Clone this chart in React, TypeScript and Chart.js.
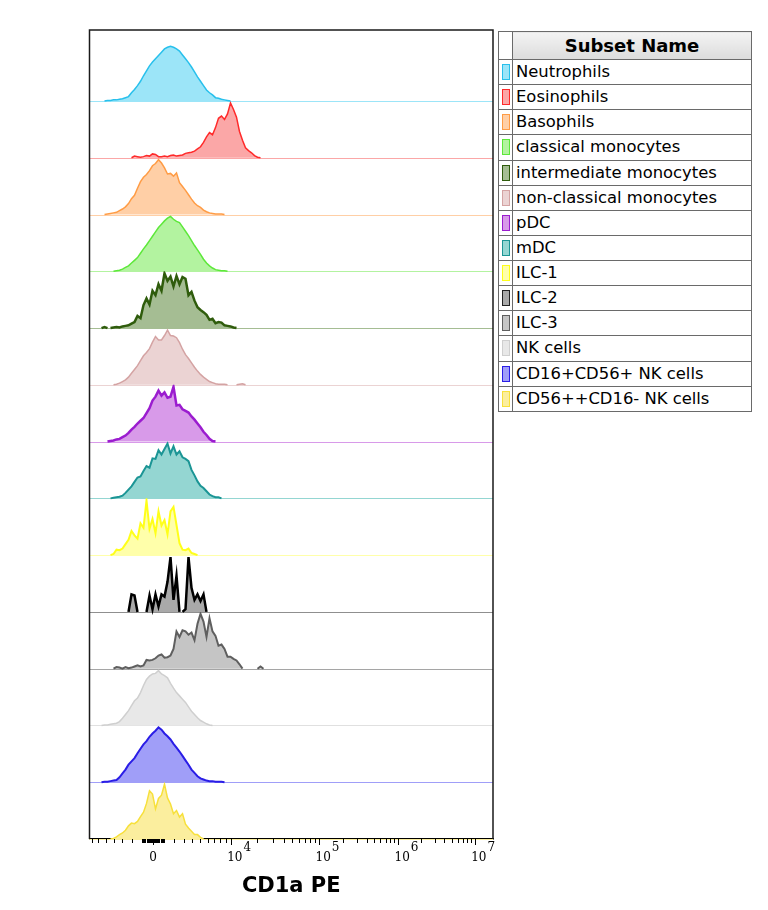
import React, { useEffect, useRef } from "react";
import { Chart, registerables } from "chart.js";

Chart.register(...registerables);

// ---------- data ----------
// Histogram bins (display channels along the CD1a PE axis)
const BIN_CHANNELS = [
  0, 3, 6, 9, 12, 15, 18, 21, 24, 27, 30, 33, 36, 39, 42, 45, 48, 51, 54, 57,
  60, 63, 66, 69, 72, 75, 78, 81, 84, 87, 90, 93, 96, 99, 102, 105, 108, 111, 114, 117,
  120, 123, 126, 129, 132, 135, 138, 141, 144, 147, 150, 153, 156, 159, 162, 165, 168, 171, 174, 177,
  180,
];

const SUBSETS = [
  "Neutrophils",
  "Eosinophils",
  "Basophils",
  "classical monocytes",
  "intermediate monocytes",
  "non-classical monocytes",
  "pDC",
  "mDC",
  "ILC-1",
  "ILC-2",
  "ILC-3",
  "NK cells",
  "CD16+CD56+ NK cells",
  "CD56++CD16- NK cells",
];

// % of mode, per bin
const neutrophils = [
  0, 0, 0, 0, 0, 0, 1, 1, 2, 2,
  3, 4, 6, 8, 15, 21, 28, 36, 46, 55,
  64, 71, 77, 83, 89, 95, 98, 100, 98, 95,
  91, 84, 77, 70, 62, 53, 44, 36, 28, 20,
  15, 11, 6, 5, 3, 2, 1, 0, 0, 0,
  0, 0, 0, 0, 0, 0, 0, 0, 0, 0,
  0,
];
const eosinophils = [
  0, 0, 0, 0, 0, 0, 0, 0, 0, 0,
  0, 0, 0, 0, 0, 3, 2, 1, 2, 4,
  3, 7, 6, 2, 2, 3, 2, 4, 5, 3,
  4, 5, 8, 9, 10, 12, 16, 20, 28, 38,
  46, 42, 55, 72, 76, 70, 80, 100, 88, 74,
  48, 32, 18, 13, 9, 4, 1, 0, 0, 0,
  0,
];
const basophils = [
  0, 0, 0, 0, 0, 0, 1, 2, 3, 4,
  7, 10, 14, 20, 29, 35, 48, 60, 68, 73,
  80, 89, 93, 100, 94, 85, 74, 75, 70, 76,
  58, 51, 44, 36, 28, 21, 16, 13, 8, 5,
  3, 2, 1, 1, 1, 0, 0, 0, 0, 0,
  0, 0, 0, 0, 0, 0, 0, 0, 0, 0,
  0,
];
const classicalMonocytes = [
  0, 0, 0, 0, 0, 0, 0, 0, 0, 1,
  2, 4, 7, 10, 15, 20, 25, 33, 41, 48,
  56, 64, 72, 80, 86, 92, 97, 100, 95, 91,
  89, 81, 73, 65, 56, 47, 39, 31, 22, 15,
  10, 6, 3, 2, 1, 1, 0, 0, 0, 0,
  0, 0, 0, 0, 0, 0, 0, 0, 0, 0,
  0,
];
const intermediateMonocytes = [
  0, 0, 0, 0, 0, 2, 0, 0, 1, 2,
  1, 3, 4, 5, 8, 11, 22, 18, 42, 54,
  43, 68, 60, 80, 68, 100, 86, 94, 76, 95,
  80, 93, 90, 60, 66, 50, 38, 33, 29, 24,
  15, 17, 9, 11, 10, 5, 4, 3, 1, 0,
  0, 0, 0, 0, 0, 0, 0, 0, 0, 0,
  0,
];
const nonClassicalMonocytes = [
  0, 0, 0, 0, 0, 0, 0, 0, 0, 1,
  3, 6, 9, 14, 21, 28, 35, 44, 53, 59,
  66, 78, 88, 82, 82, 90, 100, 90, 89, 86,
  77, 65, 55, 48, 40, 32, 25, 19, 14, 10,
  6, 4, 2, 1, 1, 1, 0, 0, 0, 0,
  1, 2, 0, 0, 0, 0, 0, 0, 0, 0,
  0,
];
const pDC = [
  0, 0, 0, 0, 0, 0, 0, 1, 2, 4,
  5, 8, 11, 16, 22, 27, 33, 38, 43, 52,
  61, 75, 82, 93, 84, 90, 80, 82, 100, 66,
  67, 59, 56, 53, 46, 40, 33, 26, 18, 12,
  5, 1, 0, 0, 0, 0, 0, 0, 0, 0,
  0, 0, 0, 0, 0, 0, 0, 0, 0, 0,
  0,
];
const mDC = [
  0, 0, 0, 0, 0, 0, 0, 0, 1, 2,
  3, 5, 10, 16, 22, 30, 38, 40, 50, 59,
  56, 73, 72, 88, 80, 90, 100, 82, 95, 80,
  86, 75, 72, 68, 52, 42, 31, 23, 19, 13,
  7, 4, 2, 2, 0, 0, 0, 0, 0, 0,
  0, 0, 0, 0, 0, 0, 0, 0, 0, 0,
  0,
];
const ilc1 = [
  0, 0, 0, 0, 0, 0, 0, 0, 2, 10,
  9, 12, 20, 28, 44, 36, 30, 58, 50, 100,
  48, 66, 40, 80, 54, 64, 38, 80, 88, 55,
  22, 10, 9, 12, 4, 2, 0, 0, 0, 0,
  0, 0, 0, 0, 0, 0, 0, 0, 0, 0,
  0, 0, 0, 0, 0, 0, 0, 0, 0, 0,
  0,
];
const ilc2 = [
  0, 0, 0, 0, 0, 0, 0, 0, 0, 0,
  0, 0, 0, 0, 32, 30, 0, 0, 0, 0,
  30, 5, 32, 10, 32, 28, 55, 100, 22, 66,
  0, 0, 5, 100, 44, 22, 32, 20, 32, 0,
  0, 0, 0, 0, 0, 0, 0, 0, 0, 0,
  0, 0, 0, 0, 0, 0, 0, 0, 0, 0,
  0,
];
const ilc3 = [
  0, 0, 0, 0, 0, 0, 0, 0, 0, 3,
  2, 0, 3, 1, 2, 4, 6, 4, 6, 16,
  15, 16, 19, 24, 26, 20, 21, 24, 36, 68,
  58, 70, 68, 62, 66, 52, 82, 100, 86, 58,
  92, 68, 60, 42, 44, 36, 22, 22, 18, 15,
  8, 0, 0, 0, 0, 0, 0, 4, 0, 0,
  0,
];
const nkCells = [
  0, 0, 0, 0, 0, 1, 1, 2, 3, 4,
  7, 13, 20, 27, 36, 45, 50, 60, 73, 84,
  90, 94, 95, 100, 94, 91, 87, 77, 68, 60,
  54, 48, 42, 34, 26, 20, 14, 9, 6, 3,
  1, 0, 0, 0, 0, 0, 0, 0, 0, 0,
  0, 0, 0, 0, 0, 0, 0, 0, 0, 0,
  0,
];
const cd16cd56NK = [
  0, 0, 0, 0, 0, 1, 1, 2, 3, 4,
  9, 16, 23, 32, 38, 44, 53, 61, 69, 75,
  83, 89, 94, 100, 96, 89, 84, 78, 70, 63,
  56, 48, 40, 32, 23, 17, 11, 7, 5, 3,
  2, 2, 1, 1, 1, 0, 0, 0, 0, 0,
  0, 0, 0, 0, 0, 0, 0, 0, 0, 0,
  0,
];
const cd56brightNK = [
  0, 0, 0, 0, 0, 0, 0, 0, 1, 4,
  8, 11, 16, 24, 29, 28, 32, 41, 49, 65,
  88, 82, 55, 74, 80, 100, 75, 64, 46, 52,
  40, 46, 27, 20, 14, 8, 8, 3, 0, 0,
  0, 0, 0, 0, 0, 0, 0, 0, 0, 0,
  0, 0, 0, 0, 0, 0, 0, 0, 0, 0,
  0,
];

const SERIES = [
  neutrophils, eosinophils, basophils, classicalMonocytes, intermediateMonocytes,
  nonClassicalMonocytes, pDC, mDC, ilc1, ilc2, ilc3, nkCells, cd16cd56NK, cd56brightNK,
];

// axis ticks (data values) and their labels
const MAJOR_TICK_VALUES = [0, 1e4, 1e5, 1e6, 1e7];
const MAJOR_TICK_BASES = ["0", "10", "10", "10", "10"];
const MAJOR_TICK_EXPONENTS = ["", "4", "5", "6", "7"];
const X_TITLE = "CD1a PE";
const LEGEND_TITLE = "Subset Name";

// ---------- styles ----------
const LINE_COLORS = [
  "#28c0ec", "#ff2a2a", "#ff9c45", "#5de83a", "#2f5c0c", "#d4a3a3", "#9b1ccf",
  "#1b9595", "#ffff1a", "#000000", "#5f5f5f", "#cfcfcf", "#2a1de6", "#f7e03c",
];
const FILL_COLORS = [
  "#9ce5f8", "#fba7a7", "#ffcfa6", "#b3f3a0", "#a5bd93", "#ebd3d3", "#d89ae9",
  "#94d6d2", "#ffffaa", "#a9a9a9", "#c5c5c5", "#e8e8e8", "#a09ef8", "#fbee9e",
];
const BASE_COLORS = [
  "#9ce5f8", "#fba7a7", "#ffcfa6", "#b3f3a0", "#a5bd93", "#ebd3d3", "#d89ae9",
  "#94d6d2", "#ffffaa", "#8f8f8f", "#a5a5a5", "#e0e0e0", "#a09ef8", "#fbee9e",
];
const LINE_WIDTHS = [1.5, 1.5, 1.5, 1.5, 2.5, 1.5, 2.5, 2, 2, 2.5, 2, 1.5, 2, 1.5];

const LANE_PEAK = 0.965; // fraction of lane used by the mode
const Y_MAX = 14.25;
const X_MAX = 403.5;

// biexponential-like display transform (data value -> display channel)
function biex(v: number): number {
  const zero = 63.5;
  const dec = [141.2, 229.5, 308.5, 385.2]; // 1e4, 1e5, 1e6, 1e7
  if (Math.abs(v) <= 1e4) {
    return zero + (dec[0] - zero) * (Math.asinh(v / 5000) / Math.asinh(2));
  }
  const lg = Math.log10(v);
  const k = Math.min(6, Math.max(4, Math.floor(lg)));
  return dec[k - 4] + (lg - k) * (dec[k - 3] - dec[k - 4]);
}

function minorTickValues(): number[] {
  const out: number[] = [];
  for (let m = 1; m <= 7; m++) out.push(-m * 1000);
  for (let m = 1; m <= 9; m++) { out.push(-m * 100); out.push(m * 100); }
  for (let m = 1; m <= 9; m++) out.push(m * 1000);
  for (let e = 4; e <= 6; e++) for (let m = 2; m <= 9; m++) out.push(m * Math.pow(10, e));
  return out;
}

const laneOffset = (k: number) => SUBSETS.length - 1 - k;

const overlayPlugin = {
  id: "flowOverlay",
  beforeDatasetsDraw(chart: any) {
    const { ctx, chartArea, scales } = chart;
    ctx.save();
    ctx.lineWidth = 1;
    SUBSETS.forEach((_, k) => {
      const yy = Math.round(scales.y.getPixelForValue(laneOffset(k))) + 0.5;
      ctx.strokeStyle = BASE_COLORS[k];
      ctx.beginPath();
      ctx.moveTo(chartArea.left, yy);
      ctx.lineTo(chartArea.right, yy);
      ctx.stroke();
    });
    ctx.restore();
  },
  afterDraw(chart: any) {
    const { ctx, chartArea, scales } = chart;
    const { left, right, top, bottom } = chartArea;
    ctx.save();
    // frame
    ctx.strokeStyle = "#1a1a1a";
    ctx.lineWidth = 1.5;
    ctx.beginPath();
    ctx.moveTo(left, bottom);
    ctx.lineTo(left, top);
    ctx.lineTo(right, top);
    ctx.lineTo(right, bottom);
    ctx.stroke();
    // ticks
    ctx.strokeStyle = "#000";
    ctx.lineWidth = 1;
    const x = scales.x;
    minorTickValues().forEach((v) => {
      const px = Math.round(x.getPixelForValue(biex(v))) + 0.5;
      ctx.beginPath();
      ctx.moveTo(px, bottom);
      ctx.lineTo(px, bottom + 4);
      ctx.stroke();
    });
    MAJOR_TICK_VALUES.forEach((v) => {
      const px = Math.round(x.getPixelForValue(biex(v))) + 0.5;
      ctx.beginPath();
      ctx.moveTo(px, bottom);
      ctx.lineTo(px, bottom + 6);
      ctx.stroke();
    });
    // labels
    ctx.fillStyle = "#000";
    ctx.font = '12px "DejaVu Serif", serif';
    ctx.textBaseline = "middle";
    MAJOR_TICK_VALUES.forEach((v, i) => {
      const px = x.getPixelForValue(biex(v));
      const base = MAJOR_TICK_BASES[i];
      const exp = MAJOR_TICK_EXPONENTS[i];
      if (!exp) {
        ctx.textAlign = "center";
        ctx.fillText(base, px, bottom + 19);
      } else {
        ctx.textAlign = "left";
        const bx = px - 3.5;
        ctx.fillText(base, bx, bottom + 19);
        const w = ctx.measureText(base).width;
        ctx.fillText(exp, bx + w + 1, bottom + 9);
      }
    });
    ctx.restore();
  },
};

const cellBorder = "1px solid #6a6a6a";
const TRANSPARENT = "rgba(0,0,0,0)";

export default function App() {
  const ref = useRef<HTMLCanvasElement>(null);
  useEffect(() => {
    const datasets = SERIES.map((vals, k) => {
      const off = laneOffset(k);
      return {
        label: SUBSETS[k],
        data: BIN_CHANNELS.map((c, i) => ({ x: c, y: off + (vals[i] / 100) * LANE_PEAK })),
        borderColor: LINE_COLORS[k],
        backgroundColor: FILL_COLORS[k],
        borderWidth: LINE_WIDTHS[k],
        pointRadius: 0,
        tension: 0,
        fill: { value: off },
        segment: {
          borderColor: (c: any) =>
            vals[c.p0DataIndex] === 0 && vals[c.p1DataIndex] === 0 ? TRANSPARENT : LINE_COLORS[k],
        },
      };
    });
    const chart = new Chart(ref.current as HTMLCanvasElement, {
      type: "line",
      data: { datasets: datasets as any },
      options: {
        animation: false,
        responsive: true,
        maintainAspectRatio: false,
        layout: { padding: { left: 81.5, right: 267, top: 22, bottom: 0 } },
        plugins: { legend: { display: false }, tooltip: { enabled: false } },
        scales: {
          x: {
            type: "linear",
            min: 0,
            max: X_MAX,
            grid: { display: false },
            border: { display: true, color: "#000", width: 1.5 },
            ticks: { display: false },
            title: {
              display: true,
              text: X_TITLE,
              color: "#000",
              font: { family: '"DejaVu Sans", sans-serif', size: 21, weight: "bold" },
              padding: { top: 0, bottom: 3 },
            },
            afterFit: (s: any) => {
              s.height = 63;
            },
          },
          y: { type: "linear", min: 0, max: Y_MAX, display: false },
        },
      },
      plugins: [overlayPlugin],
    });
    return () => chart.destroy();
  }, []);

  return (
    <div style={{ position: "relative", width: 752, height: 894 }}>
      <div style={{ position: "absolute", left: 0, top: 0, width: 752, height: 894 }}>
        <canvas ref={ref} />
      </div>
      <table
        style={{
          position: "absolute",
          left: 490,
          top: 23,
          width: 254,
          borderCollapse: "collapse",
          fontFamily: '"DejaVu Sans", Verdana, sans-serif',
          fontSize: 16.4,
          color: "#000",
          border: cellBorder,
          background: "#fff",
        }}
      >
        <thead>
          <tr style={{ height: 28 }}>
            <th style={{ width: 13, border: cellBorder, padding: 0, background: "#fff" }}></th>
            <th
              style={{
                border: cellBorder,
                padding: 0,
                fontSize: 18,
                fontWeight: "bold",
                textAlign: "center",
                background: "linear-gradient(to bottom, #f3f3f3, #dcdcdc)",
              }}
            >
              {LEGEND_TITLE}
            </th>
          </tr>
        </thead>
        <tbody>
          {SUBSETS.map((name, k) => (
            <tr key={name} style={{ height: 25.14 }}>
              <td style={{ border: cellBorder, padding: 0, textAlign: "center", lineHeight: 0 }}>
                <span
                  style={{
                    display: "inline-block",
                    width: 6,
                    height: 14,
                    background: FILL_COLORS[k],
                    border: `1px solid ${LINE_COLORS[k] === "#000000" ? "#222" : LINE_COLORS[k]}`,
                    verticalAlign: "middle",
                  }}
                />
              </td>
              <td style={{ border: cellBorder, padding: "0 0 0 3px", lineHeight: "18px", whiteSpace: "nowrap" }}>
                {name}
              </td>
            </tr>
          ))}
        </tbody>
      </table>
    </div>
  );
}
